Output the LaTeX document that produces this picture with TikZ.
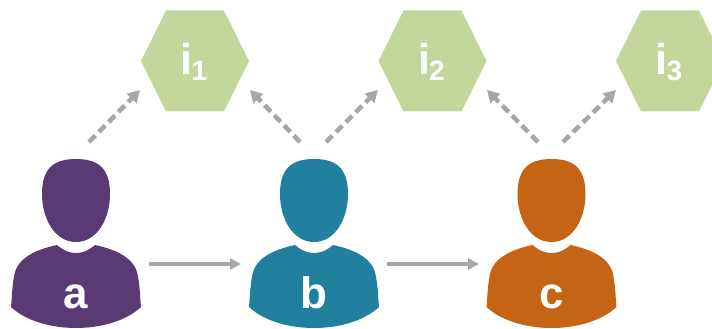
\documentclass[tikz,border=0pt]{standalone}
\usepackage{fontspec}
\setmainfont{Liberation Sans}
\definecolor{arrowgray}{HTML}{A6A6A6}
\definecolor{hexgreen}{HTML}{C3D69B}
\definecolor{userpurple}{HTML}{5A3A75}
\definecolor{userteal}{HTML}{20809E}
\definecolor{userorange}{HTML}{C46414}
\newcommand{\itemname}[1]{i\kern-1pt\raisebox{-6pt}{\fontsize{28}{28}\selectfont #1}}
\tikzset{
	userpic/.pic={
		\fill (0,87) .. controls (-21,87) and (-34,110) .. (-34,135)
			.. controls (-34,161) and (-22,170) .. (0,170)
			.. controls (22,170) and (34,161) .. (34,135)
			.. controls (34,110) and (21,87) .. (0,87) -- cycle;
		\fill (-19,84) .. controls (-12,78) and (-6,76) .. (0,76)
			.. controls (6,76) and (12,78) .. (19,84)
			.. controls (42,79) and (60,70) .. (62,52)
			.. controls (64,42) and (64,32) .. (65,22)
			.. controls (50,8) and (25,1) .. (0,1)
			.. controls (-25,1) and (-50,8) .. (-65,22)
			.. controls (-64,32) and (-64,42) .. (-62,52)
			.. controls (-60,70) and (-42,79) .. (-19,84) -- cycle;
	},
	hexpic/.pic={
		\fill[hexgreen] (-54,0)--(-29,50.5)--(29,50.5)--(54,0)--(29,-50.5)--(-29,-50.5)--cycle;
	},
	userlabel/.style={text=white,font=\bfseries\fontsize{44}{44}\selectfont,anchor=base,inner sep=0},
	hexlabel/.style={text=white,font=\bfseries\fontsize{43}{43}\selectfont,anchor=base,inner sep=0},
	solidarrow/.style={draw=arrowgray,line width=4pt,-{Triangle[length=11pt,width=11pt]}},
	dashedarrow/.style={draw=arrowgray,line width=4.5pt,dash pattern=on 9pt off 5pt,-{Triangle[length=12pt,width=13pt]}},
}
\usetikzlibrary{arrows.meta}
\begin{document}
\begin{tikzpicture}[x=1pt,y=1pt,line join=round]
	\useasboundingbox (0,0) rectangle (712,329);
	\clip (0,0) rectangle (712,329);
	% users
	\pic[userpurple] at (76,0) {userpic};
	\pic[userteal] at (314,0) {userpic};
	\pic[userorange] at (551.5,0) {userpic};
	\node[userlabel] (a) at (76,20) {a};
	\node[userlabel] (b) at (314,20) {b};
	\node[userlabel] (c) at (551.5,20) {c};
	% items
	\foreach \x/\n in {195/1,432.5/2,670/3}{
		\pic at (\x,268) {hexpic};
		\node[hexlabel] (i\n) at (\x-1,254) {\itemname{\n}};
	}
	% arrow ends
	\coordinate (aE) at (149,65);
	\coordinate (bW) at (241,65);
	\coordinate (bE) at (387,65);
	\coordinate (cW) at (479,65);
	\coordinate (aN) at (89,187);
	\coordinate (bNl) at (300,187);
	\coordinate (bNr) at (326,187);
	\coordinate (cNl) at (538,187);
	\coordinate (cNr) at (563,187);
	\coordinate (i1l) at (140,239);
	\coordinate (i1r) at (250,239);
	\coordinate (i2l) at (378,239);
	\coordinate (i2r) at (487,239);
	\coordinate (i3l) at (616,239);
	\draw[solidarrow] (aE)--(bW);
	\draw[solidarrow] (bE)--(cW);
	\draw[dashedarrow] (aN)--(i1l);
	\draw[dashedarrow] (bNl)--(i1r);
	\draw[dashedarrow] (bNr)--(i2l);
	\draw[dashedarrow] (cNl)--(i2r);
	\draw[dashedarrow] (cNr)--(i3l);
\end{tikzpicture}
\end{document}
